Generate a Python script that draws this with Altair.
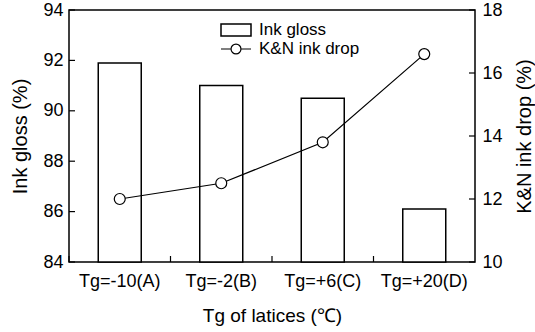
import altair as alt
import pandas as pd

categories = ["Tg=-10(A)", "Tg=-2(B)", "Tg=+6(C)", "Tg=+20(D)"]
ink_gloss = [91.9, 91.0, 90.5, 86.1]
ink_drop = [12.0, 12.5, 13.8, 16.6]
gloss_ticks = [84, 86, 88, 90, 92, 94]
drop_ticks = [10, 12, 14, 16, 18]

df = pd.DataFrame({"cat": categories, "gloss": ink_gloss, "drop": ink_drop})
gt = pd.DataFrame({"v": gloss_ticks})
dt = pd.DataFrame({"v": drop_ticks})

W, H = 406, 252
FONT = "Liberation Sans"

xscale = alt.Scale(domain=categories, paddingInner=0, paddingOuter=0)
xaxis = alt.Axis(title="Tg of latices (℃)", labelAngle=0, ticks=False, domain=False, grid=False,
                 labelPadding=10, titlePadding=16, labelFontSize=18, titleFontSize=19)

gloss_scale = alt.Scale(domain=[84, 94], zero=False, nice=False)
drop_scale = alt.Scale(domain=[10, 18], zero=False, nice=False)
gloss_axis = alt.Axis(title="Ink gloss (%)", values=gloss_ticks, ticks=False, domain=False,
                      grid=False, orient="left", labelPadding=6, titlePadding=12)
drop_axis = alt.Axis(title="K&N ink drop (%)", values=drop_ticks, ticks=False, domain=False,
                     grid=False, orient="right", labelPadding=7, titlePadding=12,
                     titleAngle=270, titleBaseline="top")


def xe(**kw):
    return alt.X("cat:N", sort=categories, scale=xscale, axis=xaxis, **kw)


bars = alt.Chart(df).transform_calculate(s1="'Ink gloss'").mark_bar(
    size=43, stroke="black", strokeWidth=1.5).encode(
    x=xe(),
    y=alt.Y("gloss:Q", scale=gloss_scale, axis=gloss_axis),
    y2=alt.datum(84),
    fill=alt.Fill("s1:N", scale=alt.Scale(domain=["Ink gloss"], range=["white"]),
                  legend=alt.Legend(title=None, orient="none", legendX=151, legendY=4,
                                    symbolType="M-1,-0.4H1V0.4H-1Z", symbolSize=900,
                                    symbolStrokeColor="black", symbolStrokeWidth=1.5,
                                    labelFontSize=17, labelOffset=7, padding=0)),
)

left_ticks = alt.Chart(gt).mark_rule(color="black", strokeWidth=1.2).encode(
    y=alt.Y("v:Q", scale=gloss_scale, axis=gloss_axis),
    x=alt.value(0), x2=alt.value(6),
)

x_ticks = alt.Chart(df).mark_rule(color="black", strokeWidth=1.2).encode(
    x=xe(bandPosition=0),
    y=alt.value(H), y2=alt.value(H - 6),
)

line = alt.Chart(df).transform_calculate(s2="'K&N ink drop'").mark_line(
    color="black", strokeWidth=1.2).encode(
    x=xe(),
    y=alt.Y("drop:Q", scale=drop_scale, axis=drop_axis),
    stroke=alt.Stroke("s2:N", scale=alt.Scale(domain=["K&N ink drop"], range=["black"]),
                      legend=alt.Legend(title=None, orient="none", legendX=151, legendY=23,
                                        symbolType="M-1,0H-0.33M0.33,0H1M0.33,0A0.33,0.33 0 1 1 -0.33,0A0.33,0.33 0 1 1 0.33,0",
                                        symbolSize=900, symbolStrokeWidth=1.2,
                                        symbolFillColor="white",
                                        labelFontSize=17, labelOffset=7, padding=0)),
)

points = alt.Chart(df).mark_point(filled=True, fill="white", stroke="black", strokeWidth=1.2,
                                  size=120, opacity=1).encode(
    x=xe(),
    y=alt.Y("drop:Q", scale=drop_scale, axis=drop_axis),
)

right_ticks = alt.Chart(dt).mark_rule(color="black", strokeWidth=1.2).encode(
    y=alt.Y("v:Q", scale=drop_scale, axis=drop_axis),
    x=alt.value(W), x2=alt.value(W - 6),
)

left = alt.layer(bars, left_ticks, x_ticks)
right = alt.layer(line, points, right_ticks)

chart = alt.layer(left, right).resolve_scale(y="independent").properties(
    width=W, height=H,
    autosize=alt.AutoSizeParams(type="none"),
    padding={"left": 69, "top": 10, "right": 60, "bottom": 70},
).configure_view(stroke="black", strokeWidth=1.5).configure_axis(
    labelFont=FONT, titleFont=FONT, labelFontSize=18, titleFontSize=20,
    labelColor="black", titleColor="black", titleFontWeight="normal",
).configure_legend(labelFont=FONT, labelColor="black")

chart.save("out.html", embed_options={"renderer": "svg", "actions": False})
